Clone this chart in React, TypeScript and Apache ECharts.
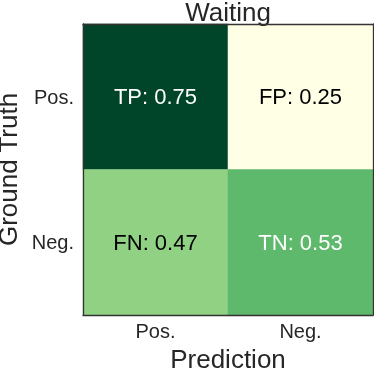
import React, { useEffect, useRef } from "react";
import * as echarts from "echarts";

const xCategories = ["Pos.", "Neg."];
const yCategories = ["Pos.", "Neg."];
const cellLabels = ["TP", "FP", "FN", "TN"];
const cellValues = [0.75, 0.25, 0.47, 0.53];
const titleText = "Waiting";
const xName = "Prediction";
const yName = "Ground Truth";
const palette = ["#ffffe5", "#f7fcb9", "#d9f0a3", "#addd8e", "#78c679", "#41ab5d", "#238443", "#006837", "#004529"];

export default function App() {
  const ref = useRef<HTMLDivElement>(null);
  useEffect(() => {
    if (!ref.current) return;
    const chart = echarts.init(ref.current, undefined, { renderer: "svg" });
    const font = "'Liberation Sans', Arial, sans-serif";
    const data = cellValues.map((v, i) => {
      const xi = i % 2;
      const yi = Math.floor(i / 2);
      return {
        value: [xi, yi, v],
        name: cellLabels[i],
        label: { color: v > 0.5 ? "#ffffff" : "#000000" },
      };
    });
    const border = { show: true, lineStyle: { color: "#333333", width: 1.3 } };
    chart.setOption({
      animation: false,
      textStyle: { fontFamily: font },
      title: {
        text: titleText,
        left: 228,
        textAlign: "center",
        top: -1,
        padding: 0,
        textStyle: { fontSize: 26, fontWeight: "normal", color: "#262626", fontFamily: font },
      },
      grid: { left: 83, top: 24, width: 290, height: 291, containLabel: false, outerBoundsMode: "none" },
      visualMap: {
        show: false,
        min: 0.25,
        max: 0.75,
        dimension: 2,
        inRange: { color: palette },
      },
      xAxis: [
        {
          type: "category",
          data: xCategories,
          position: "bottom",
          z: 10,
          name: xName,
          nameLocation: "middle",
          nameGap: 28,
          nameTextStyle: { fontSize: 26, color: "#262626", fontFamily: font },
          axisLine: border,
          axisTick: { show: false },
          axisLabel: { fontSize: 20, color: "#262626", margin: 6, fontFamily: font },
          splitLine: { show: false },
        },
        {
          type: "category",
          data: xCategories,
          position: "top",
          z: 10,
          axisLine: border,
          axisTick: { show: false },
          axisLabel: { show: false },
        },
      ],
      yAxis: [
        {
          type: "category",
          data: yCategories,
          inverse: true,
          position: "left",
          z: 10,
          name: yName,
          nameLocation: "middle",
          nameGap: 61,
          nameRotate: 90,
          nameTextStyle: { fontSize: 26, color: "#262626", fontFamily: font },
          axisLine: border,
          axisTick: { show: false },
          axisLabel: { fontSize: 20, color: "#262626", margin: 9, fontFamily: font },
          splitLine: { show: false },
        },
        {
          type: "category",
          data: yCategories,
          inverse: true,
          position: "right",
          z: 10,
          axisLine: border,
          axisTick: { show: false },
          axisLabel: { show: false },
        },
      ],
      series: [
        {
          type: "heatmap",
          data,
          label: {
            show: true,
            fontSize: 22,
            fontFamily: font,
            formatter: (p: any) => `${p.name}: ${p.value[2].toFixed(2)}`,
          },
          itemStyle: { borderWidth: 0 },
          emphasis: { disabled: true },
        },
      ],
    });
    return () => chart.dispose();
  }, []);
  return (
    <div
      ref={ref}
      style={{ position: "fixed", left: 0, top: 0, width: 374, height: 373 }}
    />
  );
}
